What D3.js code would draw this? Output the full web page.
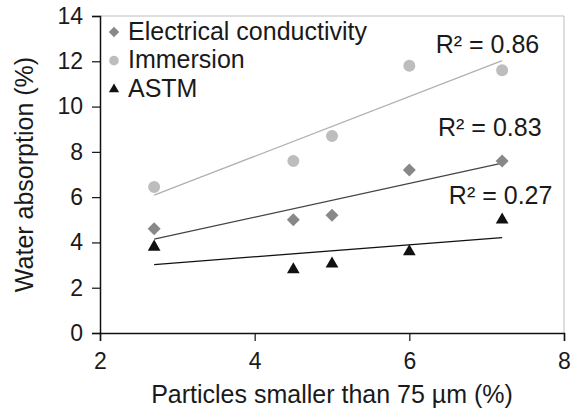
<!DOCTYPE html>
<html><head><meta charset="utf-8">
<script src="https://cdn.jsdelivr.net/npm/d3@7"></script>
<style>body{margin:0;background:#fff}text{font-family:"Liberation Sans",Arial,sans-serif;fill:#1a1a1a}</style>
</head><body><svg id="c" width="581" height="412"></svg>
<script>
const xValues = [2.7, 4.5, 5.0, 6.0, 7.2];
const conductivity = [4.6, 5.0, 5.2, 7.2, 7.6];
const immersion = [6.45, 7.6, 8.7, 11.8, 11.6];
const astm = [3.8, 2.8, 3.05, 3.6, 5.0];
const seriesNames = ["Electrical conductivity", "Immersion", "ASTM"];
const rSquared = ["0.86", "0.83", "0.27"];
const xTicks = [2, 4, 6, 8];
const yTicks = [0, 2, 4, 6, 8, 10, 12, 14];

const svg = d3.select("#c");
const L = 100, T = 16, R = 564, B = 333;
const x = d3.scaleLinear().domain([2, 8]).range([L, R]);
const y = d3.scaleLinear().domain([0, 14]).range([B, T]);

svg.append("path").attr("d", `M${L},${T}H${R}V${B}`).attr("fill","none").attr("stroke","#bdbdbd").attr("stroke-width",1);

const fs = 23;
const yAxis = svg.append("g").attr("transform",`translate(${L},0)`)
  .call(d3.axisLeft(y).tickValues(yTicks).tickSize(8).tickPadding(9).tickFormat(d3.format("d")));
const xAxis = svg.append("g").attr("transform",`translate(0,${B})`)
  .call(d3.axisBottom(x).tickValues(xTicks).tickSize(8).tickPadding(12).tickFormat(d3.format("d")));
[yAxis, xAxis].forEach(g => {
  g.select(".domain").attr("stroke","#111").attr("stroke-width",1.5);
  g.selectAll(".tick line").attr("stroke","#111").attr("stroke-width",1.2);
  g.selectAll(".tick text").attr("font-size",fs).attr("fill","#1a1a1a").style("font-family","Liberation Sans, Arial, sans-serif");
});

function fit(xs, ys){
  const mx = d3.mean(xs), my = d3.mean(ys);
  let sxy=0, sxx=0;
  xs.forEach((v,i)=>{sxy+=(v-mx)*(ys[i]-my); sxx+=(v-mx)*(v-mx);});
  const b = sxy/sxx, a = my - b*mx;
  return v => a + b*v;
}
const series = [
  {vals: conductivity, sym: d3.symbolSquare, rot: 45, color:"#888888", line:"#444444", size: 84},
  {vals: immersion, sym: d3.symbolCircle, rot: 0, color:"#bdbdbd", line:"#b0b0b0", size: 113},
  {vals: astm, sym: d3.symbolTriangle, rot: 0, color:"#111111", line:"#111111", size: 70}
];
const x0 = d3.min(xValues), x1 = d3.max(xValues);
series.forEach(s => {
  const f = fit(xValues, s.vals);
  svg.append("line").attr("x1",x(x0)).attr("y1",y(f(x0))).attr("x2",x(x1)).attr("y2",y(f(x1)))
    .attr("stroke", s.line).attr("stroke-width",1.3);
});
series.forEach(s => {
  svg.append("g").selectAll("path").data(xValues).join("path")
    .attr("transform",(d,i)=>`translate(${x(d)},${y(s.vals[i])}) rotate(${s.rot})`)
    .attr("d", d3.symbol().type(s.sym).size(s.size)())
    .attr("fill", s.color);
});

const labelPos = [[7.68, 12.38], [7.71, 8.68], [7.85, 5.7]];
labelPos.forEach((p,i)=>{
  svg.append("text").attr("x",x(p[0])).attr("y",y(p[1])).attr("text-anchor","end")
    .attr("font-size",25).text(`R² = ${rSquared[i]}`);
});

const lg = svg.append("g");
series.forEach((s,i)=>{
  const yy = 32 + i*28.7;
  lg.append("path").attr("transform",`translate(114,${yy}) rotate(${s.rot})`).attr("d", d3.symbol().type(s.sym).size(s.size*0.65)()).attr("fill", s.color);
  lg.append("text").attr("x",128).attr("y",yy+7.5).attr("font-size",25).text(seriesNames[i]);
});

svg.append("text").attr("x",(L+R)/2).attr("y",403).attr("text-anchor","middle").attr("font-size",25)
  .text("Particles smaller than 75 µm (%)");
svg.append("text").attr("transform",`translate(33,${(T+B)/2}) rotate(-90)`).attr("text-anchor","middle").attr("font-size",25)
  .text("Water absorption (%)");
</script></body></html>
